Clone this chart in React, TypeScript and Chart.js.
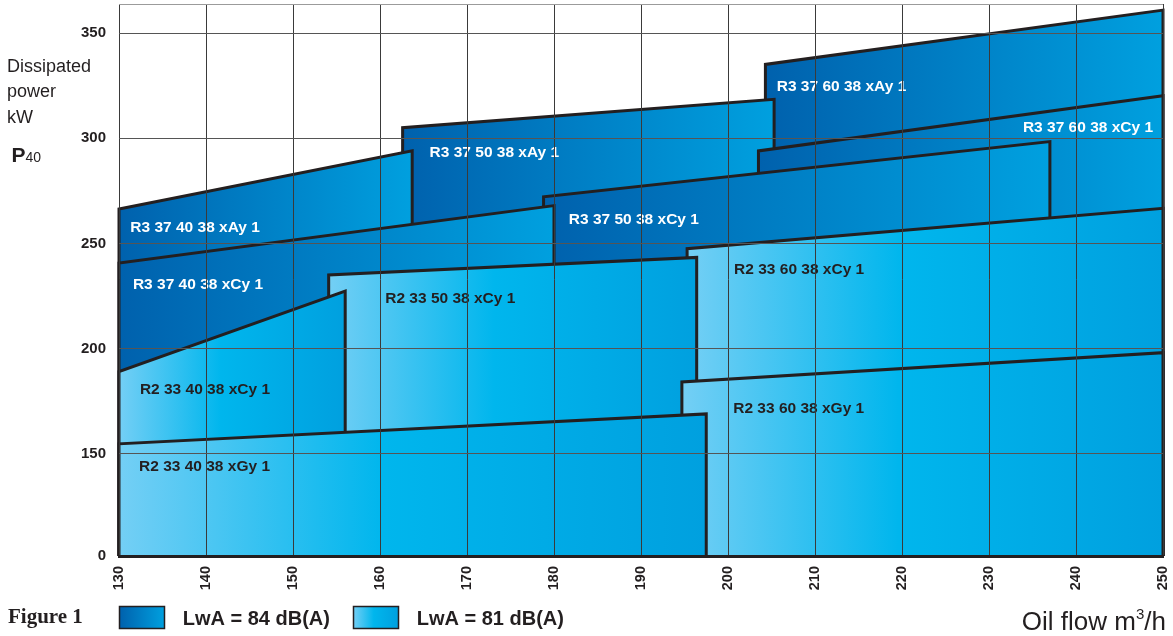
import { useEffect, useRef } from "react";
import { Chart, registerables } from "chart.js";

Chart.register(...registerables);

// ---------- data ----------
// painting order: first entry is painted first (furthest back)
const MODELS = [
  "R3 37 60 38 xAy 1",
  "R3 37 50 38 xAy 1",
  "R3 37 40 38 xAy 1",
  "R3 37 60 38 xCy 1",
  "R3 37 50 38 xCy 1",
  "R3 37 40 38 xCy 1",
  "R2 33 60 38 xCy 1",
  "R2 33 50 38 xCy 1",
  "R2 33 40 38 xCy 1",
  "R2 33 60 38 xGy 1",
  "R2 33 40 38 xGy 1",
];
// oil flow (m3/h) at the left and right edge of each zone
const FLOW_FROM = [204.3, 162.6, 130, 203.5, 178.8, 130, 195.3, 154.1, 130, 194.7, 130];
const FLOW_TO = [250, 205.3, 163.7, 250, 237, 180, 250, 196.4, 156, 250, 197.5];
// dissipated power (kW) on the upper edge, at the left and right side
const POWER_FROM = [335.1, 305, 266.4, 294, 272.2, 240.7, 247.5, 235, 189.1, 184.2, 154.8];
const POWER_TO = [360.9, 318.5, 294, 320.2, 298.4, 268, 266.7, 243.4, 227.4, 198.1, 169];
// noise class of each zone
const NOISE_DBA = [84, 84, 84, 84, 84, 84, 81, 81, 81, 81, 81];
// label anchors (flow, power)
const LABEL_FLOW = [205.6, 165.7, 131.3, 233.9, 181.7, 131.6, 200.7, 160.6, 132.4, 200.6, 132.3];
const LABEL_POWER = [324.5, 293.1, 257.4, 305, 261.2, 230.3, 237.7, 223.6, 180.7, 171.7, 144];

const X_TICKS = [130, 140, 150, 160, 170, 180, 190, 200, 210, 220, 230, 240, 250];
// broken power axis: the "0" tick sits directly below 150
const Y_TICK_LABELS = ["0", "150", "200", "250", "300", "350"];
const Y_TICK_VALUES = [101.5, 150, 200, 250, 300, 350];
const Y_TOP = 363.8;

const LEGEND_NOISE = [84, 81];
const LEGEND_LABELS = ["LwA = 84 dB(A)", "LwA = 81 dB(A)"];
const Y_TITLE_LINES = ["Dissipated", "power", "kW"];

// ---------- styling ----------
const INK = "#231F20";
const SANS = '"Liberation Sans", Arial, sans-serif';

function fillGradient(ctx: CanvasRenderingContext2D, px0: number, px1: number, noise: number) {
  const g = ctx.createLinearGradient(px0, 0, px1, 0);
  if (noise === 84) {
    g.addColorStop(0, "#0061AD");
    g.addColorStop(1, "#00A0DF");
  } else {
    g.addColorStop(0, "#74CFF5");
    g.addColorStop(0.45, "#00B6ED");
    g.addColorStop(1, "#00A0DF");
  }
  return g;
}

const labelPlugin = {
  id: "zoneLabels",
  afterDatasetsDraw(chart: any) {
    const c = chart.ctx as CanvasRenderingContext2D;
    const xs = chart.scales.x;
    const ys = chart.scales.y;
    c.save();
    c.font = `bold 15.5px ${SANS}`;
    c.textAlign = "left";
    c.textBaseline = "middle";
    MODELS.forEach((m, i) => {
      c.fillStyle = NOISE_DBA[i] === 84 ? "#FFFFFF" : INK;
      c.fillText(m, xs.getPixelForValue(LABEL_FLOW[i]), ys.getPixelForValue(LABEL_POWER[i]));
    });
    c.restore();
  },
};

const decorPlugin = {
  id: "decor",
  afterDraw(chart: any) {
    const c = chart.ctx as CanvasRenderingContext2D;
    c.save();
    c.fillStyle = INK;
    c.textAlign = "left";
    c.textBaseline = "alphabetic";

    // y title
    c.font = `18px ${SANS}`;
    Y_TITLE_LINES.forEach((t, i) => c.fillText(t, 7, 71.7 + i * 25.7));
    c.font = `bold 21px ${SANS}`;
    c.fillText("P", 11.5, 162.3);
    const pw = c.measureText("P").width;
    c.font = `14px ${SANS}`;
    c.fillText("40", 11.5 + pw, 162.3);

    // x title "Oil flow m³/h"
    const big = `26px ${SANS}`;
    const small = `15px ${SANS}`;
    c.font = big;
    const w1 = c.measureText("Oil flow m").width;
    const w3 = c.measureText("/h").width;
    c.font = small;
    const w2 = c.measureText("3").width;
    const xEnd = 1166;
    let x = xEnd - (w1 + w2 + w3);
    c.font = big;
    c.fillText("Oil flow m", x, 630);
    x += w1;
    c.font = small;
    c.fillText("3", x, 619);
    x += w2;
    c.font = big;
    c.fillText("/h", x, 630);

    // figure caption + legend
    c.font = `bold 21px "Liberation Serif", "Times New Roman", serif`;
    c.fillText("Figure 1", 8, 622.7);
    const swX = [119.5, 353.5];
    const txX = [182.7, 416.7];
    LEGEND_NOISE.forEach((n, i) => {
      c.fillStyle = fillGradient(c, swX[i], swX[i] + 45, n);
      c.fillRect(swX[i], 606.5, 45, 22);
      c.strokeStyle = INK;
      c.lineWidth = 1.5;
      c.strokeRect(swX[i], 606.5, 45, 22);
      c.fillStyle = INK;
      c.font = `bold 20px ${SANS}`;
      c.fillText(LEGEND_LABELS[i], txX[i], 625);
    });
    c.restore();
  },
};

export default function App() {
  const ref = useRef<HTMLCanvasElement | null>(null);

  useEffect(() => {
    if (!ref.current) return;
    const datasets = MODELS.map((m, i) => {
      const bottom = Y_TICK_VALUES[0];
      return {
        label: m,
        data: [
          { x: FLOW_FROM[i], y: bottom },
          { x: FLOW_FROM[i], y: POWER_FROM[i] },
          { x: FLOW_TO[i], y: POWER_TO[i] },
          { x: FLOW_TO[i], y: bottom },
        ],
        order: 100 - i,
        fill: "start",
        borderColor: INK,
        borderWidth: 3,
        borderJoinStyle: "miter" as const,
        pointRadius: 0,
        tension: 0,
        clip: false as any,
        backgroundColor: (ctx: any) => {
          const chart = ctx.chart;
          if (!chart.chartArea || !chart.scales.x) return "#00A0DF";
          const xs = chart.scales.x;
          return fillGradient(
            chart.ctx,
            xs.getPixelForValue(FLOW_FROM[i]),
            xs.getPixelForValue(FLOW_TO[i]),
            NOISE_DBA[i]
          );
        },
      };
    });

    const chart = new Chart(ref.current, {
      type: "line",
      data: { datasets: datasets as any },
      options: {
        animation: false,
        responsive: true,
        maintainAspectRatio: false,
        events: [],
        layout: { padding: { left: 0, top: 4, right: 10, bottom: 0 } },
        plugins: {
          legend: { display: false },
          tooltip: { enabled: false },
          title: { display: false },
        },
        scales: {
          x: {
            type: "linear",
            min: 130,
            max: 250,
            afterBuildTicks: (s: any) => {
              s.ticks = X_TICKS.map((v) => ({ value: v }));
            },
            afterFit: (s: any) => {
              s.height = 80;
              s.paddingLeft = 0;
              s.paddingRight = 0;
            },
            grid: { color: "#3a3a3a", lineWidth: 1, drawTicks: false, z: 1 },
            border: { display: true, color: INK, width: 3, z: 2 },
            ticks: {
              autoSkip: false,
              minRotation: 90,
              maxRotation: 90,
              padding: 10,
              color: INK,
              font: { family: SANS, weight: "bold", size: 14.5 },
              callback: (v: any) => String(v),
            },
          },
          y: {
            type: "linear",
            min: Y_TICK_VALUES[0],
            max: Y_TOP,
            afterBuildTicks: (s: any) => {
              s.ticks = [...Y_TICK_VALUES, Y_TOP].map((v) => ({ value: v }));
            },
            afterFit: (s: any) => {
              s.width = 119;
              s.paddingTop = 0;
              s.paddingBottom = 0;
            },
            grid: {
              drawTicks: false,
              lineWidth: 1,
              z: 1,
              color: (c: any) => {
                const v = c.tick ? c.tick.value : 0;
                if (v === Y_TOP) return "#9b9b9b";
                if (v === Y_TICK_VALUES[0]) return "rgba(0,0,0,0)";
                return "#555555";
              },
            },
            border: { display: false },
            ticks: {
              autoSkip: false,
              padding: 13,
              color: INK,
              font: { family: SANS, weight: "bold", size: 15 },
              callback: (_v: any, i: number) => (i < Y_TICK_LABELS.length ? Y_TICK_LABELS[i] : ""),
            },
          },
        },
      } as any,
      plugins: [labelPlugin, decorPlugin],
    });
    return () => chart.destroy();
  }, []);

  return (
    <div style={{ position: "fixed", left: 0, top: 0, width: 1173, height: 636, background: "#fff" }}>
      <canvas ref={ref} />
    </div>
  );
}
